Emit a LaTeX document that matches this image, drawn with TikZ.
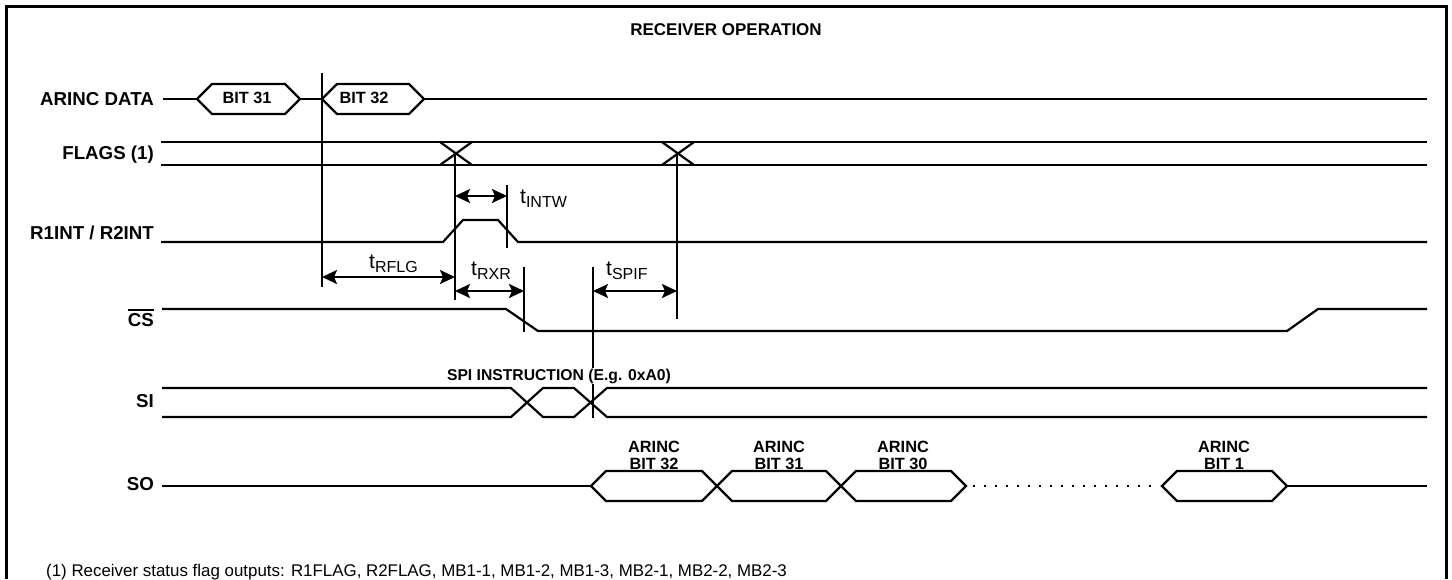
\documentclass[tikz,border=0pt]{standalone}
\usepackage{fontspec}
\setmainfont{Liberation Sans}
\usetikzlibrary{arrows.meta}

\newcommand{\tsub}[1]{t\raisebox{-4.5pt}{\fontsize{16}{17}\selectfont #1}}
\newcommand{\barsig}[1]{\setbox0=\hbox{#1}\rlap{\rule[\dimexpr\ht0+2.5pt\relax]{\wd0}{2pt}}\box0}

\begin{document}
\begin{tikzpicture}[x=1pt,y=-1pt,
    wave/.style={line width=2.2pt},
    dim/.style={line width=2.2pt,{Stealth[length=15pt,width=14pt,inset=3pt]}-{Stealth[length=15pt,width=14pt,inset=3pt]}},
    siglabel/.style={anchor=east,inner sep=0pt,font=\fontsize{18.7}{20}\selectfont\bfseries},
    bitlabel/.style={inner sep=0pt,align=center,font=\fontsize{16.3}{17}\selectfont\bfseries},
    tlabel/.style={anchor=base west,inner sep=0pt,font=\fontsize{21}{22}\selectfont}]
\useasboundingbox (0,0) rectangle (1452,579);

% the frame
\draw[line width=3pt] (6,579) |- (1446,6) -- (1446,579);
\node[font=\fontsize{17}{19}\selectfont\bfseries] (title) at (726,30) {RECEIVER OPERATION};

% the signal names
\node[siglabel] (arinc) at (154,99) {ARINC DATA};
\node[siglabel] (flags) at (154,155) {FLAGS (1)};
\node[siglabel] (rint) at (154,233) {R1INT / R2INT};
\node[siglabel] (cs) at (154,318) {\barsig{CS}};
\node[siglabel] (si) at (154,401) {SI};
\node[siglabel] (so) at (154,484) {SO};

% arinc data
\draw[wave] (163,99) -- (197,99) (300,99) -- (322,99) (424,99) -- (1427,99);
\foreach \a/\b in {197/300, 322/424}
    {\draw[wave] (\a,99) -- (\a+15,84) -- (\b-15,84) -- (\b,99) -- (\b-15,114) -- (\a+15,114) -- cycle;};
\node[bitlabel] (bit31) at (247,98) {BIT 31};
\node[bitlabel] (bit32) at (364,98) {BIT 32};

% flags
\draw[wave] (161,142) -- (1427,142) (161,165) -- (1427,165);
\foreach \c in {456,678}
    {\draw[wave] (\c-16,142) -- (\c+16,165) (\c-16,165) -- (\c+16,142);};

% interrupt
\draw[wave] (161,242) -- (443,242) -- (463,220) -- (498,220) -- (518,242) -- (1427,242);

% chip select
\draw[wave] (162,309) -- (506,309) -- (538,331) -- (1287,331) -- (1318,309) -- (1427,309);

% serial in
\draw[wave] (162,388) -- (511,388) -- (543,417) -- (574,417) -- (607,388) -- (1427,388);
\draw[wave] (162,417) -- (511,417) -- (543,388) -- (574,388) -- (607,417) -- (1427,417);

% serial out
\draw[wave] (162,486) -- (591,486) (1287,486) -- (1427,486);
\foreach \a/\b in {591/717, 717/841, 841/966, 1162/1287}
    {\draw[wave] (\a,486) -- (\a+15,471) -- (\b-15,471) -- (\b,486) -- (\b-15,501) -- (\a+15,501) -- cycle;};
\draw[line width=2.2pt,dash pattern=on 2pt off 9pt] (973,486) -- (1160,486);
\foreach \x/\n in {654/32, 779/31, 903/30, 1224/1}
    {\node[bitlabel] (so\n) at (\x,455) {ARINC\\BIT \n};};

% timing marks
\coordinate (m1a) at (322,73);   \coordinate (m1b) at (322,287);
\coordinate (m2a) at (455,153);  \coordinate (m2b) at (455,300);
\coordinate (m3a) at (507,185);  \coordinate (m3b) at (507,248);
\coordinate (m4a) at (524,267);  \coordinate (m4b) at (524,332);
\coordinate (m5a) at (593,267);  \coordinate (m5b) at (593,418);
\coordinate (m6a) at (677,153);  \coordinate (m6b) at (677,319);
\foreach \m in {1,...,6}
    {\draw[wave] (m\m a) -- (m\m b);};
\node[fill=white,inner sep=1pt,font=\fontsize{15.7}{17}\selectfont\bfseries] (spi) at (559,376) {SPI INSTRUCTION (E.g. 0xA0)};

% timing intervals
\draw[dim] (m2a |- 0,196) -- (m3a |- 0,196);
\draw[dim] (m1a |- 0,277) -- (m2a |- 0,277);
\draw[dim] (m2a |- 0,291) -- (m4a |- 0,291);
\draw[dim] (m5a |- 0,291) -- (m6a |- 0,291);
\node[tlabel] (tintw) at (520,203) {\tsub{INTW}};
\node[tlabel] (trflg) at (369,268) {\tsub{RFLG}};
\node[tlabel] (trxr) at (471,275) {\tsub{RXR}};
\node[tlabel] (tspif) at (606,275) {\tsub{SPIF}};

% footnote
\node[anchor=base west,inner sep=0pt,font=\fontsize{16.9}{18}\selectfont] (note) at (46,576)
    {(1) Receiver status flag outputs: R1FLAG, R2FLAG, MB1-1, MB1-2, MB1-3, MB2-1, MB2-2, MB2-3};
\end{tikzpicture}
\end{document}
